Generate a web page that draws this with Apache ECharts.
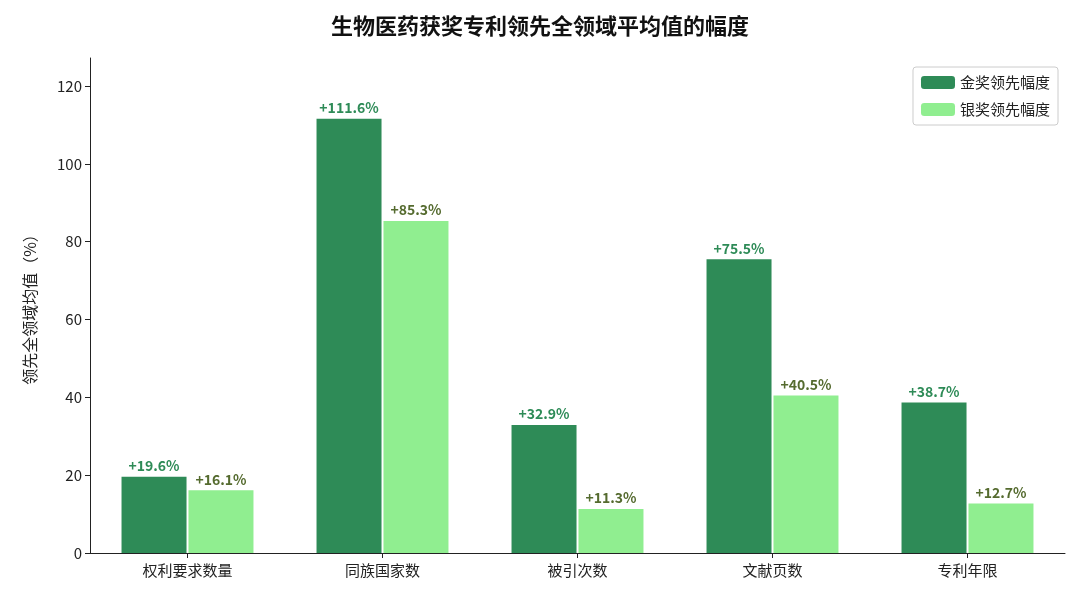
<!DOCTYPE html>
<html><head><meta charset="utf-8">
<script src="https://cdn.jsdelivr.net/npm/echarts@6/dist/echarts.min.js"></script>
<style>html,body{margin:0;padding:0;background:#fff}#c{width:1080px;height:603px}</style>
</head><body><div id="c"></div>
<script>
const categories = ['权利要求数量','同族国家数','被引次数','文献页数','专利年限'];
const goldValues = [19.6, 111.6, 32.9, 75.5, 38.7];
const silverValues = [16.1, 85.3, 11.3, 40.5, 12.7];
const font = '"Noto Sans CJK SC", "Noto Sans", sans-serif';
const chart = echarts.init(document.getElementById('c'));
chart.setOption({
  textStyle:{fontFamily:font},
  title:{text:'生物医药获奖专利领先全领域平均值的幅度',left:'center',top:10,textStyle:{fontSize:22,fontWeight:'bold',color:'#111',fontFamily:font}},
  legend:{right:22,top:67,orient:'vertical',itemWidth:34,itemHeight:13,itemGap:12,padding:[8,8,8,8],borderColor:'#ccc',borderWidth:1,borderRadius:3,textStyle:{fontSize:15,color:'#222'},data:['金奖领先幅度','银奖领先幅度']},
  grid:{left:90,right:15,top:58,bottom:50},
  xAxis:{type:'category',data:categories,axisTick:{show:true,alignWithLabel:true,length:5,lineStyle:{color:'#222'}},axisLine:{lineStyle:{color:'#222'}},axisLabel:{fontSize:15,color:'#222',margin:10}},
  yAxis:{type:'value',min:0,max:127.2,interval:20,name:'领先全领域均值（%）',nameLocation:'middle',nameGap:52,nameTextStyle:{fontSize:16,color:'#222'},axisLine:{show:true,lineStyle:{color:'#222'}},axisTick:{show:true,length:5,lineStyle:{color:'#222'}},splitLine:{show:false},axisLabel:{fontSize:15,color:'#222',showMaxLabel:false}},
  series:[
    {name:'金奖领先幅度',type:'bar',data:goldValues,barWidth:65,barGap:'3%',itemStyle:{color:'#2e8b57'},label:{show:true,position:'top',formatter:p=>'+'+p.value.toFixed(1)+'%',fontSize:14,fontWeight:'bold',color:'#2e8b57',distance:4}},
    {name:'银奖领先幅度',type:'bar',data:silverValues,barWidth:65,itemStyle:{color:'#90ee90'},label:{show:true,position:'top',formatter:p=>'+'+p.value.toFixed(1)+'%',fontSize:14,fontWeight:'bold',color:'#556b2f',distance:4}}
  ]
});
</script></body></html>
